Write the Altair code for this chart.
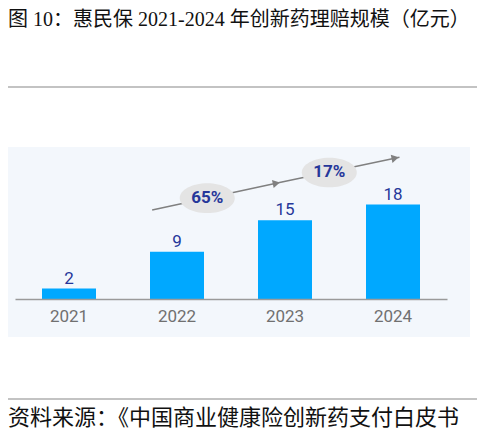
import altair as alt
import pandas as pd

# ---- data ----
years = ["2021", "2022", "2023", "2024"]
values = [2, 9, 15, 18]

growth_labels = ["65%", "17%"]
growth_x = [1.78, 2.91]          # position in category steps
growth_y = [19.2, 24.1]          # position in value units

arrow_x = [1.27, 2.45, 3.56]
arrow_y = [16.95, 22.2, 27.0]
head_x = [2.42, 3.52]
head_y = [22.05, 26.85]

TITLE = "图 10：惠民保 2021-2024 年创新药理赔规模（亿元）"
SOURCE = "资料来源：《中国商业健康险创新药支付白皮书"

df = pd.DataFrame({"year": years, "value": values})
gdf = pd.DataFrame({"label": growth_labels, "u": growth_x, "v": growth_y})
adf = pd.DataFrame({"i": list(range(len(arrow_x))), "u": arrow_x, "v": arrow_y})
hdf = pd.DataFrame({"u": head_x, "v": head_y})

W, H = 469, 291
BAR = "#00a8ff"
NAVY = "#26379a"

yscale = alt.Scale(domain=[0, 55.43], nice=False, zero=True)
xband = alt.Scale(domain=years, range=[7, 439], paddingInner=0.5, paddingOuter=0.25)
xq = alt.Scale(domain=[0, 4], range=[7, 439], nice=False, zero=False)

one = alt.Data(values=[{}])

bg = alt.Chart(one).mark_rect(color="#f3f7fc").encode(
    x=alt.value(0), x2=alt.value(462), y=alt.value(139), y2=alt.value(329)
)
rule_top = alt.Chart(one).mark_rule(color="#888888", strokeWidth=1.2).encode(
    x=alt.value(0), x2=alt.value(W), y=alt.value(79)
)
rule_bot = alt.Chart(one).mark_rule(color="#888888", strokeWidth=1.2).encode(
    x=alt.value(0), x2=alt.value(W), y=alt.value(391)
)
title = alt.Chart(one).mark_text(
    text=TITLE, align="left", baseline="middle", fontSize=20,
    font="Liberation Serif, Noto Sans CJK SC", color="#111111"
).encode(x=alt.value(0), y=alt.value(12))
source = alt.Chart(one).mark_text(
    text=SOURCE, align="left", baseline="middle", fontSize=22,
    font="Noto Sans CJK SC", color="#111111"
).encode(x=alt.value(0), y=alt.value(410))

bars = alt.Chart(df).mark_bar(color=BAR).encode(
    x=alt.X("year:N", scale=xband, sort=years,
            axis=alt.Axis(title=None, ticks=False, grid=False, labelAngle=0,
                          domainColor="#9a9a9a", domainWidth=1.5, zindex=1,
                          labelColor="#707070", labelFontSize=17, labelFont="Roboto",
                          labelBaseline="middle", labelPadding=17)),
    y=alt.Y("value:Q", scale=yscale, axis=None),
)
vlabels = alt.Chart(df).mark_text(
    baseline="middle", dy=-10, fontSize=17, font="Roboto", color=NAVY
).encode(
    x=alt.X("year:N", scale=xband, sort=years, axis=None),
    y=alt.Y("value:Q", scale=yscale, axis=None),
    text="value:Q",
)

line = alt.Chart(adf).mark_line(color="#808080", strokeWidth=1.5).encode(
    x=alt.X("u:Q", scale=xq, axis=None),
    y=alt.Y("v:Q", scale=yscale, axis=None),
    order="i:Q",
)
heads = alt.Chart(hdf).mark_point(
    shape="triangle-right", filled=True, size=70, angle=348, color="#808080", opacity=1
).encode(
    x=alt.X("u:Q", scale=xq, axis=None),
    y=alt.Y("v:Q", scale=yscale, axis=None),
)
ellipses = alt.Chart(gdf).mark_point(
    shape="M -1 0 A 1 0.54 0 1 0 1 0 A 1 0.54 0 1 0 -1 0 Z",
    filled=True, size=3025, color="#e4e4e4", opacity=1
).encode(
    x=alt.X("u:Q", scale=xq, axis=None),
    y=alt.Y("v:Q", scale=yscale, axis=None),
)
pct = alt.Chart(gdf).mark_text(
    baseline="middle", fontSize=17, fontWeight="bold", font="Roboto", color=NAVY
).encode(
    x=alt.X("u:Q", scale=xq, axis=None),
    y=alt.Y("v:Q", scale=yscale, axis=None),
    text="label:N",
)

chart = alt.layer(
    bg, rule_top, rule_bot, title, source, bars, vlabels, line, heads, ellipses, pct
).resolve_scale(x="independent").properties(
    width=W, height=H,
    autosize=alt.AutoSizeParams(type="none"),
    padding={"left": 0, "top": 0, "right": 0, "bottom": 131},
).configure_view(stroke="transparent")

chart.save("out.html", embed_options={"renderer": "svg", "actions": False})
